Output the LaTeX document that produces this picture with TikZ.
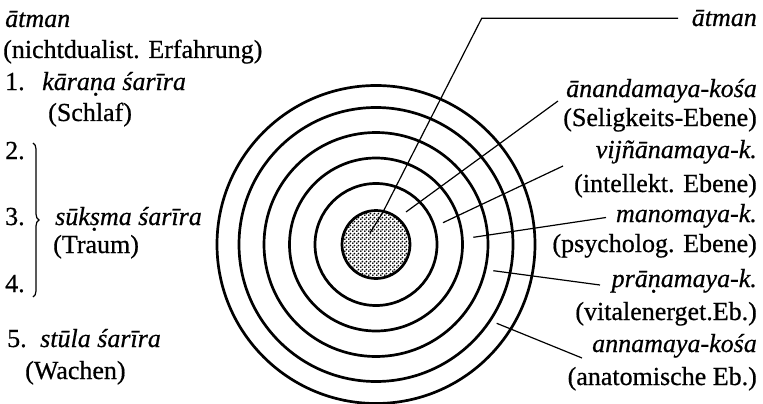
\documentclass[tikz,border=0pt]{standalone}
\usepackage{fontspec}
\setmainfont{Liberation Serif}[FakeBold=0.6]
\usetikzlibrary{patterns,decorations.pathreplacing}
\newcommand\dotu[1]{\leavevmode\setbox0\hbox{#1}\rlap{\hbox to\wd0{\hss\smash{\raisebox{-0.21em}{.}}\hss}}#1}
\pgfdeclarepatternformonly{stip}{\pgfpointorigin}{\pgfpoint{4pt}{4pt}}{\pgfpoint{4pt}{4pt}}{%
  \pgfpathcircle{\pgfpoint{1pt}{1pt}}{1.2pt}%
  \pgfpathcircle{\pgfpoint{3pt}{3pt}}{1.2pt}%
  \pgfusepath{fill}}
\begin{document}
\begin{tikzpicture}[x=1pt,y=-1pt,
  ring/.style={line width=2.7pt},
  lead/.style={line width=1.2pt},
  lbl/.style={inner sep=0pt,font=\fontsize{26}{30}\selectfont},
  lblL/.style={lbl,anchor=base west},
  lblR/.style={lbl,anchor=base east}]
\useasboundingbox (0,0) rectangle (763,404);
% concentric layers
\coordinate (c) at (376,244.5);
\foreach \r in {61,86.5,112,137,159} \draw[ring] (c) circle[radius=\r pt];
\fill[pattern=stip] (c) circle[radius=34pt];
\draw[ring] (c) circle[radius=34pt];

% left column
\node[lblL] (la) at (5,27) {\itshape \=atman};
\node[lblL] (lb) at (3,58) {(nichtdualist. Erfahrung)};
\node[lblL] (l1) at (5,90) {1.};
\node[lblL] (l1t) at (42,90) {\itshape k\=ara\dotu{n}a \'sar\=\i ra};
\node[lblL] (l1s) at (48,121) {(Schlaf)};
\node[lblL] (l2) at (5,159) {2.};
\node[lblL] (l3) at (5,225) {3.};
\node[lblL] (l3t) at (55,225) {\itshape s\=uk\dotu{s}ma \'sar\=\i ra};
\node[lblL] (l3s) at (53,253) {(Traum)};
\node[lblL] (l4) at (5,292) {4.};
\node[lblL] (l5) at (7,347) {5.};
\node[lblL] (l5t) at (40,347) {\itshape st\=ula \'sar\=\i ra};
\node[lblL] (l5s) at (25,379) {(Wachen)};
\coordinate (b1) at (33,143);
\coordinate (b2) at (33,297);
\draw[line width=1.2pt,decorate,decoration={brace,amplitude=6pt}] (b1) -- (b2);

% right column
\node[lblR] (ra) at (757,26) {\itshape \=atman};
\node[lblR] (r1) at (757,97) {\itshape \=anandamaya-ko\'sa};
\node[lblR] (r1s) at (757,126) {(Seligkeits-Ebene)};
\node[lblR] (r2) at (757,158) {\itshape vij\~n\=anamaya-k.};
\node[lblR] (r2s) at (757,192) {(intellekt. Ebene)};
\node[lblR] (r3) at (757,222) {\itshape manomaya-k.};
\node[lblR] (r3s) at (757,252) {(psycholog. Ebene)};
\node[lblR] (r4) at (757,287) {\itshape pr\=a\dotu{n}amaya-k.};
\node[lblR] (r4s) at (757,320) {(vitalenerget.Eb.)};
\node[lblR] (r5) at (757,352) {\itshape annamaya-ko\'sa};
\node[lblR] (r5s) at (757,385) {(anatomische Eb.)};

% leader lines
\coordinate (s0) at (370,233);
\coordinate (k0) at (383,212);
\coordinate (m0) at (481.7,18.3);
\coordinate (e0) at (678,18.3);
\draw[lead] (s0) -- (k0) -- (m0) -- (e0);
\coordinate (s1) at (406,212);
\coordinate (e1) at (558,101);
\draw[lead] (s1) -- (e1);
\coordinate (s2) at (443,222.7);
\coordinate (e2) at (563,166);
\draw[lead] (s2) -- (e2);
\coordinate (s3) at (473.3,237.3);
\coordinate (e3) at (606,217.5);
\draw[lead] (s3) -- (e3);
\coordinate (s4) at (493.3,270.7);
\coordinate (e4) at (600,285);
\draw[lead] (s4) -- (e4);
\coordinate (s5) at (496.7,323.3);
\coordinate (e5) at (582,358);
\draw[lead] (s5) -- (e5);
\end{tikzpicture}
\end{document}
